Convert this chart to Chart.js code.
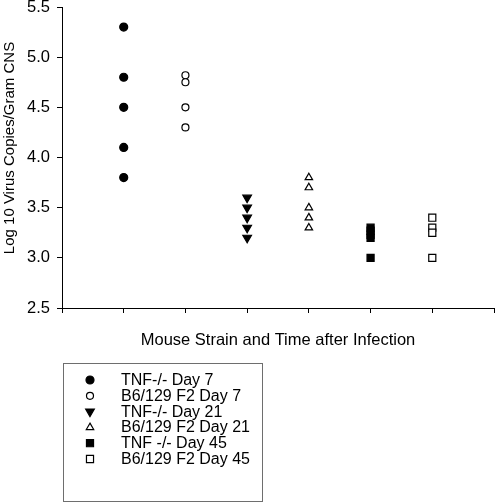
<!DOCTYPE html>
<html>
<head>
<meta charset="utf-8">
<script src="https://cdn.jsdelivr.net/npm/chart.js@4/dist/chart.umd.min.js"></script>
<style>
  html, body { margin: 0; padding: 0; background: #fff; }
  #c { display: block; }
</style>
</head>
<body>
<canvas id="c" width="496" height="503"></canvas>
<script>
// ---- Data ----
const groupLabels = ["TNF-/- Day 7", "B6/129 F2 Day 7", "TNF-/- Day 21", "B6/129 F2 Day 21", "TNF -/- Day 45", "B6/129 F2 Day 45"];
const groupPositions = [1, 2, 3, 4, 5, 6];
const tnfDay7  = [5.3, 4.8, 4.5, 4.1, 3.8];
const b6Day7   = [4.82, 4.75, 4.5, 4.3];
const tnfDay21 = [3.6, 3.5, 3.4, 3.3, 3.2];
const b6Day21  = [3.8, 3.7, 3.5, 3.4, 3.3];
const tnfDay45 = [3.3, 3.27, 3.23, 3.2, 3.0];
const b6Day45  = [3.4, 3.3, 3.25, 3.0];
const yTicks = [2.5, 3.0, 3.5, 4.0, 4.5, 5.0, 5.5];
const xTitle = "Mouse Strain and Time after Infection";
const yTitle = "Log 10 Virus Copies/Gram CNS";

const seriesValues = [tnfDay7, b6Day7, tnfDay21, b6Day21, tnfDay45, b6Day45];
const FONT = "'Liberation Sans', Arial, sans-serif";

const styles = [
  { pointStyle: 'circle',   radius: 4,   fill: '#000', rot: 0 },
  { pointStyle: 'circle',   radius: 3.5, fill: '#fff', rot: 0 },
  { pointStyle: 'triangle', radius: 5,   fill: '#000', rot: 180 },
  { pointStyle: 'triangle', radius: 4.3, fill: '#fff', rot: 0 },
  { pointStyle: 'rect',     radius: 5,   fill: '#000', rot: 0 },
  { pointStyle: 'rect',     radius: 5,   fill: '#fff', rot: 0 }
];

const datasets = seriesValues.map((vals, i) => ({
  label: groupLabels[i],
  data: vals.map(v => ({ x: groupPositions[i], y: v })),
  pointStyle: styles[i].pointStyle,
  pointRadius: styles[i].radius,
  pointHoverRadius: styles[i].radius,
  pointRotation: styles[i].rot,
  pointBackgroundColor: styles[i].fill,
  pointBorderColor: '#000',
  pointBorderWidth: 1.2,
  showLine: false
}));

function drawMarker(ctx, style, x, y) {
  ctx.save();
  ctx.fillStyle = style.fill;
  ctx.strokeStyle = '#000';
  ctx.lineWidth = 1.2;
  ctx.beginPath();
  const r = style.radius;
  if (style.pointStyle === 'circle') {
    ctx.arc(x, y, r, 0, Math.PI * 2);
  } else if (style.pointStyle === 'triangle') {
    let rad = style.rot * Math.PI / 180;
    ctx.moveTo(x + Math.sin(rad) * r, y - Math.cos(rad) * r);
    rad += 2 * Math.PI / 3;
    ctx.lineTo(x + Math.sin(rad) * r, y - Math.cos(rad) * r);
    rad += 2 * Math.PI / 3;
    ctx.lineTo(x + Math.sin(rad) * r, y - Math.cos(rad) * r);
    ctx.closePath();
  } else {
    const s = Math.SQRT1_2 * r;
    ctx.rect(x - s, y - s, 2 * s, 2 * s);
  }
  ctx.fill();
  ctx.stroke();
  ctx.restore();
}

const extrasPlugin = {
  id: 'extras',
  afterDraw(chart) {
    const ctx = chart.ctx;
    // Y axis title
    ctx.save();
    ctx.font = "15px " + FONT;
    ctx.fillStyle = '#000';
    ctx.textAlign = 'center';
    ctx.textBaseline = 'middle';
    ctx.translate(10, 148);
    ctx.rotate(-Math.PI / 2);
    ctx.fillText(yTitle, 0, 0);
    ctx.restore();

    // Legend box
    const bx = 63.5, by = 363.5, bw = 199, bh = 138;
    ctx.save();
    ctx.strokeStyle = '#6e6e6e';
    ctx.lineWidth = 1;
    ctx.strokeRect(bx, by, bw, bh);
    ctx.font = "16px " + FONT;
    ctx.textAlign = 'left';
    ctx.textBaseline = 'middle';
    groupLabels.forEach((lab, i) => {
      const y = 380 + i * 15.8;
      drawMarker(ctx, styles[i], 90, y);
      ctx.fillStyle = '#000';
      ctx.fillText(lab, 121, y + 0.5);
    });
    ctx.restore();
  }
};

new Chart(document.getElementById('c'), {
  type: 'scatter',
  data: { datasets },
  options: {
    responsive: false,
    animation: false,
    devicePixelRatio: 1,
    layout: { autoPadding: false, padding: { left: 0, right: 2, top: 7, bottom: 148 } },
    plugins: { legend: { display: false }, tooltip: { enabled: false } },
    scales: {
      x: {
        type: 'linear',
        min: 0, max: 7,
        afterFit(scale) { scale.height = 47; scale.paddingLeft = 0; scale.paddingRight = 0; },
        ticks: { stepSize: 1, display: false, padding: 0 },
        grid: { display: true, drawOnChartArea: false, drawTicks: true, tickLength: 5, color: '#000', lineWidth: 1 },
        border: { color: '#000', width: 1 },
        title: {
          display: true, text: xTitle, color: '#000',
          font: { family: FONT, size: 16.5 },
          padding: { top: 0, bottom: 5 }
        }
      },
      y: {
        min: 2.5, max: 5.5,
        afterFit(scale) { scale.width = 62; scale.paddingTop = 0; scale.paddingBottom = 0; },
        afterBuildTicks(scale) { scale.ticks = yTicks.map(v => ({ value: v })); },
        ticks: {
          callback: v => Number(v).toFixed(1),
          color: '#000', padding: 7,
          font: { family: FONT, size: 16.5, lineHeight: 0.85 }
        },
        grid: { display: true, drawOnChartArea: false, drawTicks: true, tickLength: 5, color: '#000', lineWidth: 1 },
        border: { color: '#000', width: 1 }
      }
    }
  },
  plugins: [extrasPlugin]
});
</script>
</body>
</html>
